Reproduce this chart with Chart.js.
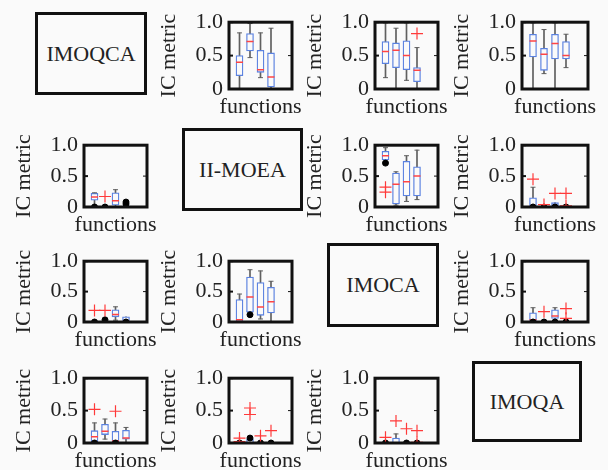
<!DOCTYPE html>
<html>
<head>
<meta charset="utf-8">
<script src="https://cdn.jsdelivr.net/npm/chart.js@4/dist/chart.umd.min.js"></script>
<style>
  body { margin: 0; background: #fafafa; }
  #page { position: relative; width: 608px; height: 470px; overflow: hidden; }
  canvas { position: absolute; }
  .method {
    position: absolute; box-sizing: border-box; border: 3px solid #111;
    display: flex; align-items: center; justify-content: center;
    font: 22px "Liberation Serif", serif; color: #222;
  }
</style>
</head>
<body>
<div id="page"></div>
<script>
// methods on the diagonal
const methods = ['IMOQCA', 'II-MOEA', 'IMOCA', 'IMOQA'];
const functions = [1, 2, 3, 4];
const yTicks = [0, 0.5, 1];

// one row per off-diagonal panel, one value per function
const whiskerLow = [
  [0, 0.47, 0.17, 0],
  [0.17, 0, 0.13, 0],
  [0, 0.23, 0, 0.32],
  [0, 0, 0, 0],
  [0.76, 0.03, 0.09, 0.12],
  [0, 0, 0, 0],
  [0, 0, 0.03, 0],
  [0, 0.16, 0.05, 0],
  [0, 0, 0.06, 0],
  [0, 0.06, 0, 0],
  [0, 0, 0, 0],
  [0, 0, 0, 0]
];
const boxLow = [
  [0.20, 0.57, 0.25, 0.03],
  [0.38, 0.32, 0.29, 0.11],
  [0.48, 0.28, 0.45, 0.45],
  [0.11, 0, 0.03, 0],
  [0.76, 0.05, 0.18, 0.18],
  [0, 0, 0, 0],
  [0, 0, 0.085, 0],
  [0.01, 0.16, 0.11, 0.15],
  [0, 0, 0.06, 0],
  [0, 0.13, 0.01, 0.06],
  [0, 0, 0, 0],
  [0, 0, 0, 0]
];
const medians = [
  [0.40, 0.71, 0.29, 0.18],
  [0.56, 0.58, 0.50, 0.28],
  [0.72, 0.52, 0.68, 0.50],
  [0.16, 0, 0.10, 0],
  [0.83, 0.37, 0.41, 0.50],
  [0.01, 0, 0, 0],
  [0, 0, 0.125, 0.01],
  [0.035, 0.41, 0.245, 0.335],
  [0.035, 0, 0.10, 0],
  [0.095, 0.18, 0.03, 0.076],
  [0, 0, 0, 0],
  [0, 0, 0, 0]
];
const boxHigh = [
  [0.50, 0.83, 0.58, 0.54],
  [0.71, 0.69, 0.72, 0.32],
  [0.82, 0.61, 0.82, 0.71],
  [0.22, 0, 0.23, 0.02],
  [0.90, 0.55, 0.74, 0.65],
  [0.15, 0, 0.07, 0],
  [0, 0, 0.20, 0.085],
  [0.37, 0.74, 0.65, 0.57],
  [0.15, 0, 0.20, 0],
  [0.19, 0.29, 0.18, 0.195],
  [0, 0.06, 0, 0],
  [0, 0.077, 0, 0]
];
const whiskerHigh = [
  [0.84, 0.98, 0.84, 0.91],
  [0.99, 0.91, 0.99, 0.62],
  [0.99, 0.89, 0.99, 0.82],
  [0.23, 0, 0.28, 0.03],
  [0.96, 0.57, 0.83, 0.92],
  [0.32, 0, 0.07, 0],
  [0, 0, 0.25, 0.085],
  [0.46, 0.86, 0.84, 0.67],
  [0.235, 0, 0.235, 0],
  [0.31, 0.37, 0.31, 0.24],
  [0, 0.06, 0, 0],
  [0, 0.14, 0, 0]
];
// outliers as [function, value]
const redOutliers = [
  [],
  [[4, 0.83]],
  [],
  [[2, 0.17]],
  [[1, 0.32], [1, 0.24]],
  [[1, 0.45], [2, 0.04], [3, 0.22], [4, 0.22], [4, 0.02]],
  [[1, 0.19], [2, 0.19]],
  [],
  [[2, 0.17], [4, 0.22], [4, 0.06]],
  [[1, 0.52], [3, 0.49]],
  [[1, 0.076], [1, 0.02], [2, 0.54], [2, 0.44], [3, 0.11], [4, 0.19]],
  [[1, 0.087], [2, 0.34], [3, 0.22], [4, 0.19], [4, 0.01]]
];
const blackPoints = [
  [],
  [],
  [],
  [[1, 0], [2, 0], [4, 0.08], [4, 0.05], [4, 0]],
  [[1, 0.71]],
  [[1, 0], [2, 0], [3, 0], [4, 0]],
  [[1, 0], [2, 0.035], [4, 0]],
  [[2, 0.12]],
  [[1, 0], [2, 0], [3, 0], [4, 0]],
  [[1, 0], [3, 0]],
  [[1, 0], [2, 0.076], [3, 0], [4, 0]],
  [[1, 0], [3, 0], [4, 0]]
];
// [row, col] of each panel
const panelCells = [[0,1],[0,2],[0,3],[1,0],[1,2],[1,3],[2,0],[2,1],[2,3],[3,0],[3,1],[3,2]];

// grid geometry (plot area of each cell)
const colLeft = [84, 229, 375, 522];
const colWidth = [63, 63, 63, 66];
const rowTop = [17, 140, 256, 373];
const rowHeight = [72, 67, 66, 70];
const labelBoxes = [[35, 12, 112, 83], [182, 128, 121, 83], [327, 243, 112, 84], [472, 361, 110, 81]];

const yAxisW = 72, padTop = 14, padRight = 16, xAxisH = 34;
const serif = '"Liberation Serif", "Times New Roman", serif';
const bg = '#fafafa';
const page = document.getElementById('page');

// method names in framed boxes
methods.forEach((m, i) => {
  const b = labelBoxes[i];
  const div = document.createElement('div');
  div.className = 'method';
  div.style.left = b[0] + 'px';
  div.style.top = b[1] + 'px';
  div.style.width = b[2] + 'px';
  div.style.height = b[3] + 'px';
  div.textContent = m;
  page.appendChild(div);
});

// thick frame, inward ticks and the two axis titles (drawn without width squeeze)
const framePlugin = {
  id: 'frame',
  afterDraw(chart) {
    const a = chart.chartArea, ctx = chart.ctx;
    const y = chart.scales.y;
    ctx.save();
    ctx.strokeStyle = '#111';
    yTicks.forEach(t => {
      const py = y.getPixelForValue(t);
      ctx.lineWidth = 2;
      ctx.beginPath();
      ctx.moveTo(a.left, py); ctx.lineTo(a.left + 4, py);
      ctx.stroke();
      ctx.lineWidth = 1;
      ctx.beginPath();
      ctx.moveTo(a.right, py); ctx.lineTo(a.right - 4, py);
      ctx.stroke();
    });
    ctx.lineWidth = 3;
    ctx.strokeRect(a.left, a.top, a.right - a.left, a.bottom - a.top);

    ctx.fillStyle = '#222';
    ctx.font = '22px ' + serif;
    ctx.textAlign = 'center';
    ctx.textBaseline = 'alphabetic';
    ctx.fillText('functions', (a.left + a.right) / 2, a.bottom + 24);
    ctx.translate(a.left - 54, (a.top + a.bottom) / 2);
    ctx.rotate(-Math.PI / 2);
    ctx.fillText('IC metric', 0, 0);
    ctx.restore();
  }
};

panelCells.forEach((cell, p) => {
  const r = cell[0], c = cell[1];
  const canvas = document.createElement('canvas');
  const w = yAxisW + colWidth[c] + padRight;
  const h = padTop + rowHeight[r] + xAxisH;
  canvas.width = w; canvas.height = h;
  canvas.style.left = (colLeft[c] - yAxisW) + 'px';
  canvas.style.top = (rowTop[r] - padTop) + 'px';
  canvas.style.width = w + 'px';
  canvas.style.height = h + 'px';
  page.appendChild(canvas);

  const whiskers = functions.map((f, i) => ({ x: f, y: [whiskerLow[p][i], whiskerHigh[p][i]] }));
  const boxes = functions.map((f, i) => ({ x: f, y: [boxLow[p][i], boxHigh[p][i]] }));
  const meds = functions.map((f, i) => ({ x: f, y: medians[p][i] }));
  const caps = [];
  functions.forEach((f, i) => {
    if (whiskerHigh[p][i] > boxHigh[p][i]) caps.push({ x: f, y: whiskerHigh[p][i] });
    if (whiskerLow[p][i] < boxLow[p][i]) caps.push({ x: f, y: whiskerLow[p][i] });
  });
  const reds = redOutliers[p].map(o => ({ x: o[0], y: o[1] }));
  const blacks = blackPoints[p].map(o => ({ x: o[0], y: o[1] }));

  new Chart(canvas.getContext('2d'), {
    type: 'bar',
    data: {
      datasets: [
        { data: whiskers, backgroundColor: '#606060', borderWidth: 0, barThickness: 1, grouped: false, order: 6 },
        { data: boxes, backgroundColor: bg, borderColor: '#5b82e0', borderWidth: 1.3,
          borderSkipped: false, barThickness: 7, grouped: false, order: 5 },
        { type: 'scatter', data: caps, pointStyle: 'line', pointRadius: 2.5, borderColor: '#606060', borderWidth: 1, order: 4 },
        { type: 'scatter', data: meds, pointStyle: 'line', pointRadius: 3.5, borderColor: '#ff4545', borderWidth: 1.5, order: 3 },
        { type: 'scatter', data: blacks, pointStyle: 'circle', pointRadius: 3, backgroundColor: '#000', borderColor: '#000', order: 2 },
        { type: 'scatter', data: reds, pointStyle: 'cross', pointRadius: 6, borderColor: '#ff3a3a', borderWidth: 1.2, order: 1 }
      ]
    },
    options: {
      responsive: false,
      animation: false,
      events: [],
      layout: { padding: { top: padTop, right: padRight, bottom: 0, left: 0 } },
      plugins: { legend: { display: false }, tooltip: { enabled: false } },
      scales: {
        x: {
          type: 'linear', min: 0, max: 6, offset: false,
          grid: { display: false, drawTicks: false },
          border: { display: false },
          ticks: { display: false },
          afterFit(scale) { scale.height = xAxisH; }
        },
        y: {
          min: 0, max: 1,
          grid: { display: false, drawTicks: false },
          border: { display: false },
          ticks: {
            stepSize: 0.5, padding: 6, color: '#222', font: { family: serif, size: 22 },
            callback: v => (v === 1 ? '1.0' : v === 0.5 ? '0.5' : '0')
          },
          afterFit(scale) { scale.width = yAxisW; }
        }
      }
    },
    plugins: [framePlugin]
  });
});
</script>
</body>
</html>
